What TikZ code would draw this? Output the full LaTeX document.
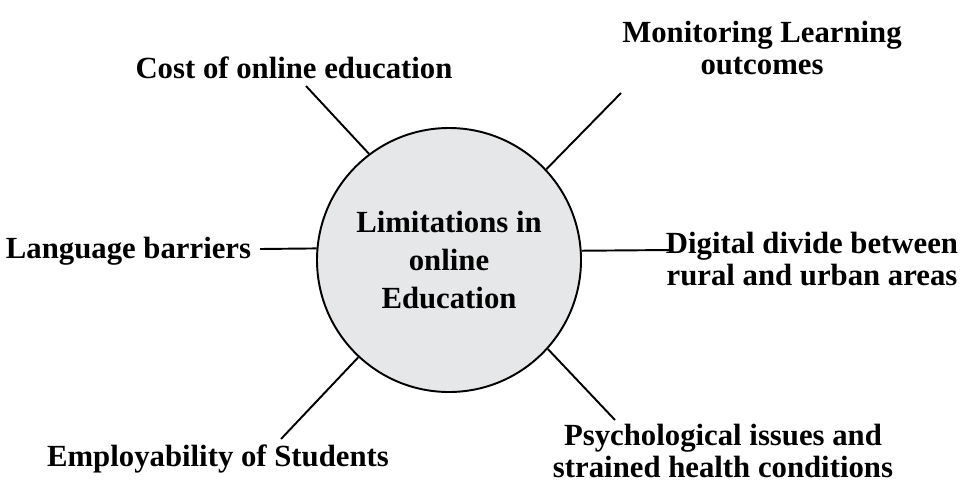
\documentclass[tikz,border=0pt]{standalone}
\usepackage{fontspec}
\setmainfont{Liberation Serif}
\usepackage{xcolor}
\definecolor{hubgray}{RGB}{230, 231, 233}

\begin{document}
\begin{tikzpicture}[
  limitlabel/.style={font=\bfseries\fontsize{17.5}{17.8}\selectfont, align=center, inner sep=0pt},
  spoke/.style={draw=black, line width=1.1pt}
]
\useasboundingbox (0,0) rectangle (19.32,-9.72);

% central circle
\node[draw=black, line width=1.1pt, circle, fill=hubgray, minimum size=5.28cm, inner sep=0pt,
      align=center, font=\bfseries\fontsize{17.5}{21.8}\selectfont] (hub) at (8.98,-5.2)
  {Limitations in\\online\\Education};

% surrounding limitations
\node[limitlabel, anchor=base] (cost) at (5.88,-1.56) {Cost of online education};
\node[limitlabel] (monitor) at (15.24,-0.96) {Monitoring Learning\\outcomes};
\node[limitlabel] (digital) at (16.24,-5.18) {Digital divide between\\rural and urban areas};
\node[limitlabel, anchor=base] (language) at (2.57,-5.16) {Language barriers};
\node[limitlabel, anchor=base] (employ) at (4.36,-9.32) {Employability of Students};
\node[limitlabel] (psych) at (14.46,-9.02) {Psychological issues and\\strained health conditions};

% free ends of the spokes
\coordinate (costend) at (6.12,-1.72);
\coordinate (monitorend) at (12.42,-1.86);
\coordinate (digitalend) at (13.42,-5.0);
\coordinate (languageend) at (5.2,-4.98);
\coordinate (employend) at (5.62,-8.78);
\coordinate (psychend) at (12.3,-8.4);

\draw[spoke] (hub.127) -- (costend);
\draw[spoke] (hub.43.5) -- (monitorend);
\draw[spoke] (hub.4.3) -- (digitalend);
\draw[spoke] (hub.175.2) -- (languageend);
\draw[spoke] (hub.227.8) -- (employend);
\draw[spoke] (hub.318.3) -- (psychend);
\end{tikzpicture}
\end{document}
